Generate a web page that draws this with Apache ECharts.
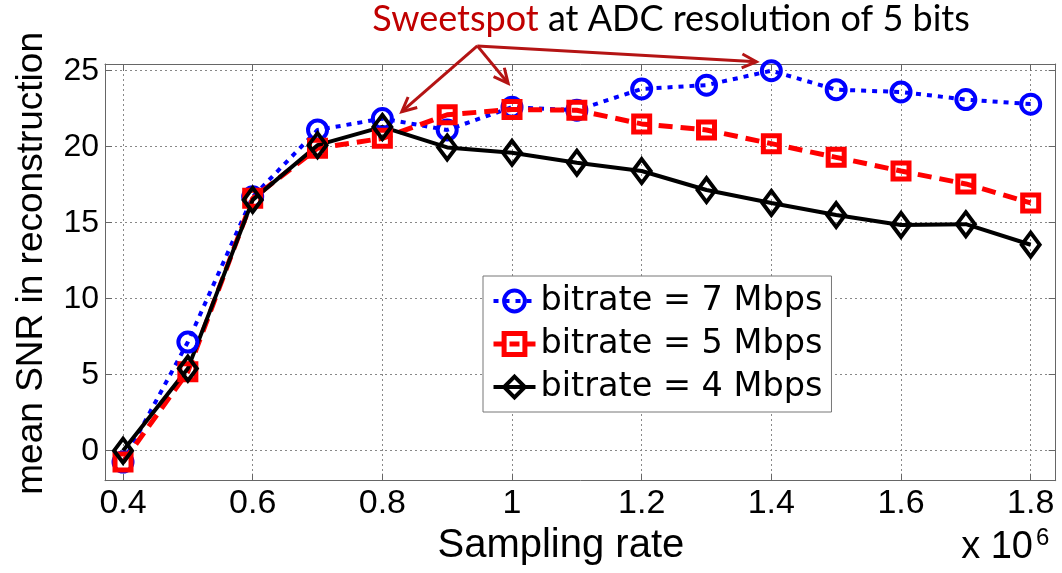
<!DOCTYPE html>
<html>
<head>
<meta charset="utf-8">
<script src="https://cdn.jsdelivr.net/npm/echarts@6/dist/echarts.min.js"></script>
<style>
  html, body { margin: 0; padding: 0; background: #fff; }
  #chart { width: 1062px; height: 573px; }
</style>
</head>
<body>
<div id="chart"></div>
<script>
// Sampling rate (x 10^6) and mean reconstruction SNR for three bitrates
const samplingRate = [0.4, 0.5, 0.6, 0.7, 0.8, 0.9, 1.0, 1.1, 1.2, 1.3, 1.4, 1.5, 1.6, 1.7, 1.8];
const snr7Mbps = [-0.75, 7.15, 16.7, 21.1, 21.85, 21.1, 22.6, 22.4, 23.8, 24.05, 25.0, 23.75, 23.6, 23.1, 22.8];
const snr5Mbps = [-0.75, 5.2, 16.6, 19.9, 20.55, 22.1, 22.45, 22.4, 21.5, 21.1, 20.2, 19.3, 18.4, 17.55, 16.3];
const snr4Mbps = [0.0, 5.4, 16.5, 20.1, 21.3, 19.95, 19.6, 18.95, 18.4, 17.15, 16.3, 15.5, 14.85, 14.9, 13.55];
const seriesNames = ['bitrate = 7 Mbps', 'bitrate = 5 Mbps', 'bitrate = 4 Mbps'];

// Tick positions shown on the axes
const xTicks = [0.4, 0.6, 0.8, 1, 1.2, 1.4, 1.6, 1.8];
const yTicks = [0, 5, 10, 15, 20, 25];

// Annotation: arrows from a common origin to the sweet-spot points (data units)
const arrowOrigin = [0.9465, 26.63];
const arrowTips = [[0.83, 22.3], [0.994, 24.17], [1.377, 25.59]];

const X_MIN = 0.3722, X_MAX = 1.8386;
const Y_MIN = -1.974, Y_MAX = 25.44;

const FRAME = '#666';
const FONT = 'Liberation Sans';

// Per-series drawing styles
const STYLES = [
  { color: '#0000ff', symbol: 'circle', size: 19, width: 4, dash: [5, 6], border: 4 },
  { color: '#ff0000', symbol: 'rect', size: 16, width: 5, dash: [14, 8], border: 5 },
  { color: '#000000', symbol: 'diamond', size: [18, 24], width: 4, dash: 'solid', border: 4 }
];

function pairs(ys) { return samplingRate.map((x, i) => [x, ys[i]]); }

function makeX(position, main) {
  return {
    type: 'value', min: X_MIN, max: X_MAX, position: position,
    axisLine: { show: true, onZero: false, lineStyle: { color: FRAME, width: 1 } },
    axisTick: { show: true, inside: true, length: 7, customValues: xTicks, lineStyle: { color: FRAME, width: 1 } },
    axisLabel: main ? {
      customValues: xTicks, fontSize: 34, fontFamily: FONT, color: '#000', margin: 6,
      formatter: v => String(+(+v).toFixed(1))
    } : { show: false },
    splitLine: main ? { show: true, lineStyle: { color: '#888', width: 1, type: [2, 3] } } : { show: false },
    name: main ? 'Sampling rate' : '',
    nameLocation: 'middle', nameGap: 37,
    nameTextStyle: { fontSize: 40, fontFamily: FONT, color: '#000', padding: [0, 39, 0, 0] }
  };
}

function makeY(position, main) {
  return {
    type: 'value', min: Y_MIN, max: Y_MAX, position: position,
    axisLine: { show: true, onZero: false, lineStyle: { color: FRAME, width: 1 } },
    axisTick: { show: true, inside: true, length: 7, customValues: yTicks, lineStyle: { color: FRAME, width: 1 } },
    axisLabel: main ? {
      customValues: yTicks, fontSize: 32, fontFamily: FONT, color: '#000', margin: 6,
      formatter: v => String(Math.round(v))
    } : { show: false },
    splitLine: main ? { show: true, lineStyle: { color: '#888', width: 1, type: [2, 3] } } : { show: false },
    name: main ? 'mean SNR in reconstruction' : '',
    nameLocation: 'middle', nameGap: 55,
    nameTextStyle: { fontSize: 37, fontFamily: FONT, color: '#000', padding: [0, 0, 0, 18] }
  };
}

function lineSeries(name, ys, s) {
  return {
    name: name, type: 'line', data: pairs(ys),
    xAxisIndex: 0, yAxisIndex: 0,
    symbol: s.symbol, symbolSize: s.size, showSymbol: true, clip: false,
    lineStyle: { color: s.color, width: s.width, type: s.dash, cap: 'butt' },
    itemStyle: { color: 'rgba(0,0,0,0)', borderColor: s.color, borderWidth: s.border },
    emphasis: { disabled: true }
  };
}

const chart = echarts.init(document.getElementById('chart'), null, { renderer: 'canvas' });

chart.setOption({
  animation: false,
  backgroundColor: '#fff',
  grid: { left: 105, right: 6.3, top: 64, bottom: 92.3, containLabel: false },
  xAxis: [makeX('bottom', true), makeX('top', false)],
  yAxis: [makeY('left', true), makeY('right', false)],
  legend: {
    orient: 'vertical', left: 483, top: 276,
    padding: [8, 9, 8, 8], itemGap: 9, itemWidth: 42, itemHeight: 26,
    backgroundColor: '#fff', borderColor: '#777', borderWidth: 1,
    textStyle: { fontSize: 33.5, fontFamily: 'DejaVu Sans', color: '#000', lineHeight: 34 },
    data: seriesNames.map((n, i) => ({
      name: n,
      itemStyle: { color: 'rgba(0,0,0,0)', borderColor: STYLES[i].color, borderWidth: STYLES[i].border },
      lineStyle: { color: STYLES[i].color, width: STYLES[i].width, type: i === 1 ? [10, 6] : STYLES[i].dash }
    }))
  },
  series: [
    lineSeries(seriesNames[0], snr7Mbps, STYLES[0]),
    lineSeries(seriesNames[1], snr5Mbps, STYLES[1]),
    lineSeries(seriesNames[2], snr4Mbps, STYLES[2])
  ]
});

// Annotation arrows and text, placed through the axes' own scales
const ARROW = '#b41414';
function toPx(p) { return chart.convertToPixel({ xAxisIndex: 0, yAxisIndex: 0 }, p); }
function arrow(from, to) {
  const ang = Math.atan2(to[1] - from[1], to[0] - from[0]);
  const head = 16, spread = Math.PI / 7;
  const p1 = [to[0] - head * Math.cos(ang - spread), to[1] - head * Math.sin(ang - spread)];
  const p2 = [to[0] - head * Math.cos(ang + spread), to[1] - head * Math.sin(ang + spread)];
  return [
    { type: 'line', shape: { x1: from[0], y1: from[1], x2: to[0], y2: to[1] }, style: { stroke: ARROW, lineWidth: 3 }, z: 100 },
    { type: 'polyline', shape: { points: [p1, to, p2] }, style: { stroke: ARROW, lineWidth: 3, fill: null }, z: 100 }
  ];
}
const o = toPx(arrowOrigin);
const arrowGraphics = [];
arrowTips.forEach(t => arrowGraphics.push(...arrow(o, toPx(t))));

chart.setOption({
  graphic: [
    ...arrowGraphics,
    {
      type: 'text', x: 671, y: 19, z: 100,
      style: {
        text: '{r|Sweetspot} at ADC resolution of 5 bits',
        align: 'center', verticalAlign: 'middle',
        fontSize: 36, fontFamily: 'Lato', fill: '#000',
        rich: { r: { fill: '#c00000', fontSize: 36, fontFamily: 'Lato' } }
      }
    },
    {
      type: 'text', x: 1033, y: 567, z: 100,
      style: { text: 'x 10', align: 'right', verticalAlign: 'bottom', fontSize: 38, fontFamily: FONT, fill: '#000' }
    },
    {
      type: 'text', x: 1036, y: 550, z: 100,
      style: { text: '6', align: 'left', verticalAlign: 'bottom', fontSize: 24, fontFamily: FONT, fill: '#000' }
    }
  ]
});
</script>
</body>
</html>
